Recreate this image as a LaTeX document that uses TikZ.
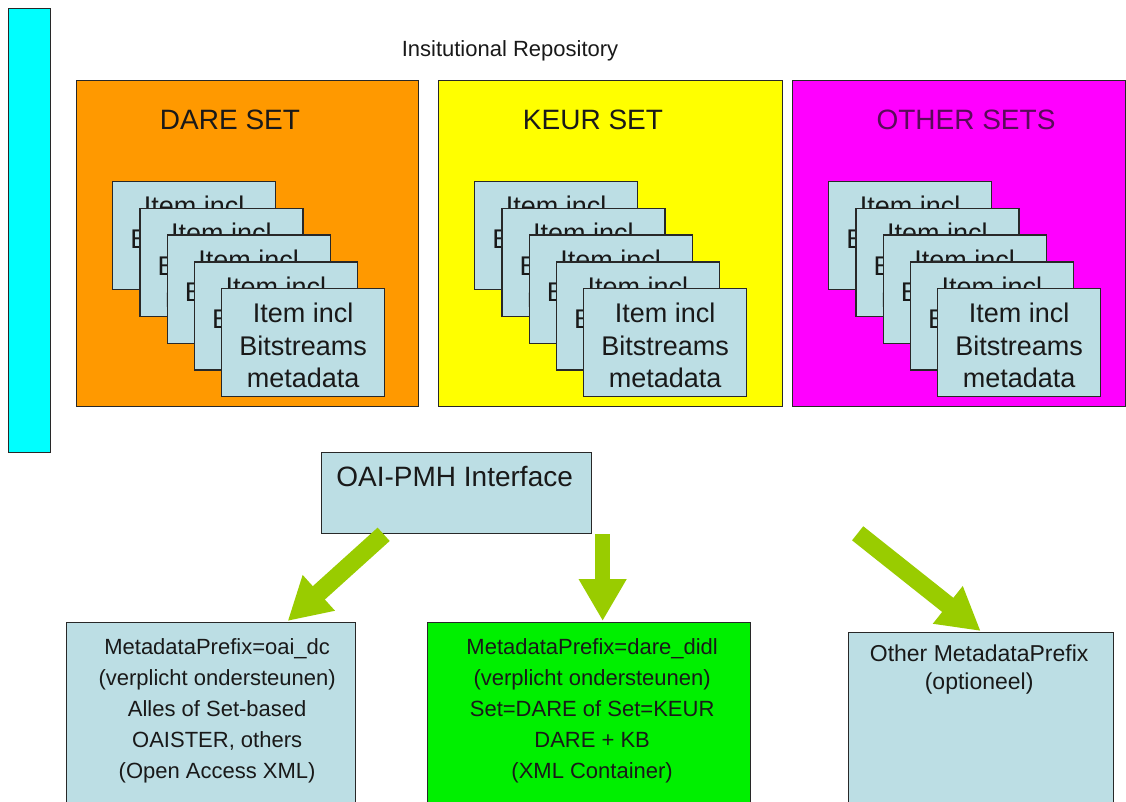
\documentclass[tikz,border=0pt]{standalone}
\usepackage{fontspec}
\setmainfont{Liberation Sans}
\usetikzlibrary{arrows.meta}
\definecolor{lblue}{RGB}{188,222,228}
\definecolor{orng}{RGB}{255,153,0}
\definecolor{yllw}{RGB}{255,255,0}
\definecolor{mgnt}{RGB}{255,0,255}
\definecolor{cyn}{RGB}{0,255,255}
\definecolor{grn}{RGB}{0,240,0}
\definecolor{agrn}{RGB}{153,204,0}
\definecolor{edge}{RGB}{40,40,40}
\definecolor{txt}{RGB}{25,25,25}
\definecolor{otxt}{RGB}{90,10,90}
\begin{document}
\begin{tikzpicture}[x=1pt,y=-1pt,
  box/.style={draw=edge, line width=1.3pt, inner sep=0pt, anchor=north west},
  setbox/.style={box, minimum height=326pt},
  card/.style={box, fill=lblue, minimum width=163pt, minimum height=108pt},
  cardtxt/.style={font=\fontsize{27}{32.5}\selectfont, align=center, text=txt, inner sep=0pt, anchor=north},
  setlbl/.style={font=\fontsize{28}{32}\selectfont, text=txt, inner sep=0pt, anchor=base},
  boxtxt/.style={font=\fontsize{22}{31}\selectfont, align=center, text=txt, inner sep=0pt, anchor=north},
  bigarrow/.style={color=agrn, line width=18pt, -{Triangle[width=45pt,length=42pt]}}
]
\useasboundingbox (0,0) rectangle (1126,802);
\clip (0,0) rectangle (1126,802);
\fill[white] (0,0) rectangle (1126,802);

% left bar
\node[box, fill=cyn, minimum width=42pt, minimum height=444pt] (bar) at (8,8) {};

% title
\node[font=\fontsize{22}{26}\selectfont, text=txt, inner sep=0pt, anchor=base] (title) at (510,57) {Insitutional Repository};

% sets
\node[setbox, fill=orng, minimum width=342pt] (dare) at (76,80) {};
\node[setbox, fill=yllw, minimum width=344pt] (keur) at (438,80) {};
\node[setbox, fill=mgnt, minimum width=333pt] (other) at (792,80) {};

\node[setlbl] (darelbl) at (230,130) {DARE SET};
\node[setlbl] (keurlbl) at (593,130) {KEUR SET};
\node[setlbl, text=otxt] (otherlbl) at (966,130) {OTHER SETS};

% item cards
\foreach \s/\off in {d/0, k/362, o/716}{
  \foreach \i in {0,...,4}{
    \node[card] (\s c\i) at ({112+\off+27.25*\i},{181+26.75*\i}) {};
    \node[cardtxt] (\s t\i) at ([yshift=-15pt]\s c\i.north) {Item incl\\Bitstreams\\metadata};
  }
}

% OAI-PMH interface
\node[box, fill=lblue, minimum width=270pt, minimum height=81pt] (oai) at (321,452) {};
\node[font=\fontsize{28}{32}\selectfont, text=txt, inner sep=0pt, anchor=north] (oaitxt) at ([yshift=-14pt, xshift=-2pt]oai.north) {OAI-PMH Interface};

% bottom boxes
\node[box, fill=lblue, minimum width=289pt, minimum height=200pt] (dc) at (66,622) {};
\node[boxtxt] (dctxt) at ([yshift=-16pt, xshift=6pt]dc.north) {MetadataPrefix=oai\_dc\\(verplicht ondersteunen)\\Alles of Set-based\\OAISTER, others\\(Open Access XML)};

\node[box, fill=grn, minimum width=323pt, minimum height=200pt] (didl) at (427,622) {};
\node[boxtxt] (didltxt) at ([yshift=-16pt, xshift=3pt]didl.north) {MetadataPrefix=dare\_didl\\(verplicht ondersteunen)\\Set=DARE of Set=KEUR\\DARE + KB\\(XML Container)};

\node[box, fill=lblue, minimum width=265pt, minimum height=190pt] (oth) at (848,632) {};
\node[boxtxt, font=\fontsize{23}{28}\selectfont] (othtxt) at ([yshift=-13pt, xshift=-2pt]oth.north) {Other MetadataPrefix\\(optioneel)};

% arrows
\coordinate (a1s) at ([xshift=-73pt]oai.south);
\coordinate (a1e) at ([xshift=76.5pt, yshift=1pt]dc.north);
\coordinate (a2s) at ([xshift=146pt]oai.south);
\coordinate (a2e) at ([xshift=13.5pt, yshift=1pt]didl.north);
\coordinate (a3s) at ([xshift=401pt, yshift=1pt]oai.south);
\coordinate (a3e) at ([xshift=-0.5pt, yshift=1pt]oth.north);
\draw[bigarrow] (a1s) -- (a1e);
\draw[bigarrow, line width=15pt] (a2s) -- (a2e);
\draw[bigarrow] (a3s) -- (a3e);
\end{tikzpicture}
\end{document}
